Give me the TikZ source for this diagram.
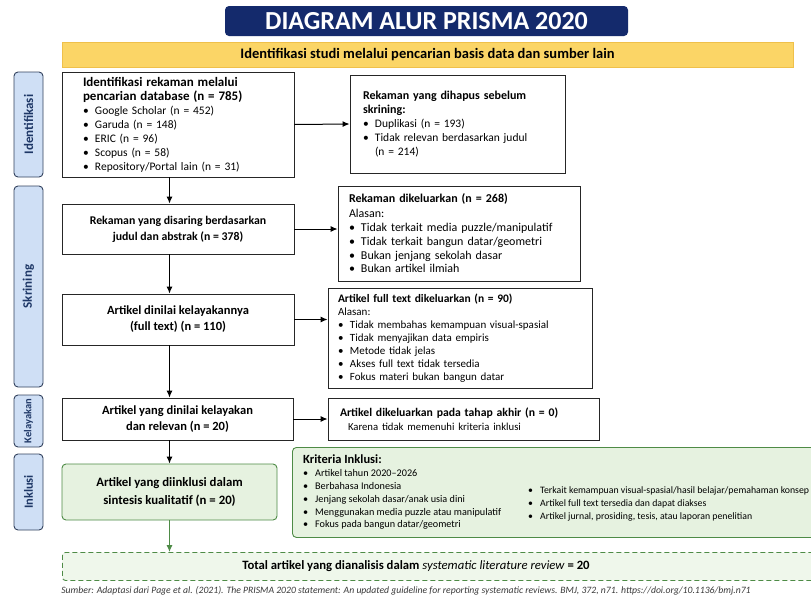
\documentclass[tikz,border=0pt]{standalone}
\usepackage{fontspec}
\setmainfont{Carlito}
\usetikzlibrary{arrows.meta}
\definecolor{navyttl}{HTML}{142A6C}
\definecolor{bannery}{HTML}{FBD566}
\definecolor{bannerd}{HTML}{EFC04A}
\definecolor{phasefill}{HTML}{CFDFF5}
\definecolor{phasedraw}{HTML}{33425E}
\definecolor{phasetext}{HTML}{1E3766}
\definecolor{incfill}{HTML}{E6F2E0}
\definecolor{incdraw}{HTML}{4E8B46}
\definecolor{totfill}{HTML}{EFF7EB}
\definecolor{srcgray}{HTML}{3A3A3A}
\newcommand{\itm}{\makebox[12pt][l]{\textbullet}}
\newcommand{\contd}{\hspace*{12pt}}
\begin{document}
\begin{tikzpicture}[x=1pt,y=-1pt,
  phase/.style={draw=phasedraw, fill=phasefill, rounded corners=4pt, line width=0.9pt, minimum width=29, inner sep=0pt, text=phasetext, font=\bfseries\fontsize{13}{15}\selectfont},
  box/.style={draw=black!85, fill=white, line width=0.9pt, inner sep=0pt},
  midtxt/.style={align=center, font=\bfseries\fontsize{12.5}{16}\selectfont},
  listtxt/.style={align=left, font=\fontsize{11.5}{14}\selectfont},
  incbox/.style={draw=incdraw, fill=incfill, line width=0.9pt, rounded corners=4pt, inner sep=0pt},
  arr/.style={-{Latex[length=7pt,width=6pt]}, line width=1pt},
]
\useasboundingbox (0,0) rectangle (811,603);
\fill[white] (0,0) rectangle (811,603);
\node[fill=navyttl, rounded corners=4pt, minimum width=403, minimum height=30, text=white, font=\bfseries\fontsize{26}{28}\selectfont] (title) at (426.5,21) {DIAGRAM ALUR PRISMA 2020};
\node[fill=bannery, draw=bannerd, line width=0.6pt, minimum width=731, minimum height=25, font=\bfseries\fontsize{14.5}{16}\selectfont] (banner) at (427.5,54.5) {Identifikasi studi melalui pencarian basis data dan sumber lain};
\node[phase, minimum height=105] (pid) at (28.5,124.5) {\rotatebox{90}{Identifikasi}};
\node[phase, minimum height=201] (psk) at (28.5,286.5) {\rotatebox{90}{Skrining}};
\node[phase, minimum height=52, font=\bfseries\fontsize{10.5}{12}\selectfont] (pel) at (28.5,421) {\rotatebox{90}{Kelayakan}};
\node[phase, minimum height=76, font=\bfseries\fontsize{12.5}{14}\selectfont] (pinc) at (28.5,492) {\rotatebox{90}{Inklusi}};
\node[box, listtxt, minimum width=232, minimum height=105, text width=190] (ident) at (178,124.5) {\textbf{\fontsize{13}{13}\selectfont Identifikasi rekaman melalui}\\\textbf{\fontsize{13}{15}\selectfont pencarian database (n = 785)}\\\itm Google Scholar (n = 452)\\\itm Garuda (n = 148)\\\itm ERIC (n = 96)\\\itm Scopus (n = 58)\\\itm Repository/Portal lain (n = 31)};
\node[box, listtxt, minimum width=215, minimum height=98, text width=189] (removed) at (457.5,124) {\textbf{\fontsize{12}{13}\selectfont Rekaman yang dihapus sebelum}\\\textbf{\fontsize{12}{18}\selectfont skrining:}\\\itm Duplikasi (n = 193)\\\itm Tidak relevan berdasarkan judul\\\contd(n = 214)};
\node[box, midtxt, minimum width=232, minimum height=50, font=\bfseries\fontsize{11.8}{16}\selectfont] (scr) at (178,229) {Rekaman yang disaring berdasarkan\\judul dan abstrak (n = 378)};
\node[box, listtxt, minimum width=242, minimum height=95, text width=220, font=\fontsize{12}{13.8}\selectfont] (exc1) at (459,233.5) {\textbf{Rekaman dikeluarkan (n = 268)}\\[1pt]Alasan:\\\itm Tidak terkait media puzzle/manipulatif\\\itm Tidak terkait bangun datar/geometri\\\itm Bukan jenjang sekolah dasar\\\itm Bukan artikel ilmiah};
\node[box, midtxt, minimum width=232, minimum height=51] (full) at (178,319.5) {Artikel dinilai kelayakannya\\(full text) (n = 110)};
\node[box, listtxt, minimum width=264, minimum height=100, text width=244, font=\fontsize{11}{13}\selectfont] (exc2) at (460,338) {\textbf{\fontsize{11.5}{13}\selectfont Artikel full text dikeluarkan (n = 90)}\\Alasan:\\\itm Tidak membahas kemampuan visual-spasial\\\itm Tidak menyajikan data empiris\\\itm Metode tidak jelas\\\itm Akses full text tidak tersedia\\\itm Fokus materi bukan bangun datar};
\node[box, midtxt, minimum width=231, minimum height=42] (elig) at (177.5,419) {Artikel yang dinilai kelayakan\\dan relevan (n = 20)};
\node[box, listtxt, minimum width=271, minimum height=42, text width=247] (exc3) at (463.5,419) {\textbf{\fontsize{11.7}{14}\selectfont Artikel dikeluarkan pada tahap akhir (n = 0)}\\\hspace*{8pt}{\fontsize{10.7}{14}\selectfont Karena tidak memenuhi kriteria inklusi}};
\node[incbox, align=center, minimum width=215, minimum height=56, font=\bfseries\fontsize{12.8}{18}\selectfont] (incl) at (169.5,492) {Artikel yang diinklusi dalam\\sintesis kualitatif (n = 20)};
\node[incbox, anchor=north west, minimum width=540, minimum height=90] (crit) at (292,447) {};
\node[anchor=north west, align=left, inner sep=0pt, font=\fontsize{10.2}{12.8}\selectfont] (critl) at (303,455) {\textbf{\fontsize{12.5}{14}\selectfont Kriteria Inklusi:}\\\itm Artikel tahun 2020--2026\\\itm Berbahasa Indonesia\\\itm Jenjang sekolah dasar/anak usia dini\\\itm Menggunakan media puzzle atau manipulatif\\\itm Fokus pada bangun datar/geometri};
\node[anchor=west, align=left, inner sep=0pt, font=\fontsize{9.8}{13}\selectfont] (critr) at (528,504) {\itm Terkait kemampuan visual-spasial/hasil belajar/pemahaman konsep\\\itm Artikel full text tersedia dan dapat diakses\\\itm Artikel jurnal, prosiding, tesis, atau laporan penelitian};
\node[draw=incdraw, fill=totfill, dash pattern=on 5pt off 3pt, line width=0.9pt, rounded corners=3pt, anchor=north west, minimum width=770, minimum height=28] (total) at (62,552) {};
\node[font=\bfseries\fontsize{12.7}{14}\selectfont] (totaltxt) at (416,566) {Total artikel yang dianalisis dalam \textmd{\itshape systematic literature review} = 20};
\node[text=srcgray, font=\itshape\fontsize{9.7}{11}\selectfont] (src) at (406,591) {Sumber: Adaptasi dari Page et al. (2021). The PRISMA 2020 statement: An updated guideline for reporting systematic reviews. BMJ, 372, n71. https://doi.org/10.1136/bmj.n71};
\draw[arr](ident.south -| incl) -- (scr.north -| incl);
\draw[arr](scr.south -| incl) -- (full.north -| incl);
\draw[arr](full.south -| incl) -- (elig.north -| incl);
\draw[arr](elig.south -| incl) -- (incl.north);
\draw[arr, draw=incdraw](incl.south) -- (total.north -| incl);
\draw[arr](ident.east) -- (removed.west);
\draw[arr](scr.east) -- (scr.east -| exc1.west);
\draw[arr](full.east) -- (full.east -| exc2.west);
\draw[arr](elig.east) -- (exc3.west);
\end{tikzpicture}
\end{document}
